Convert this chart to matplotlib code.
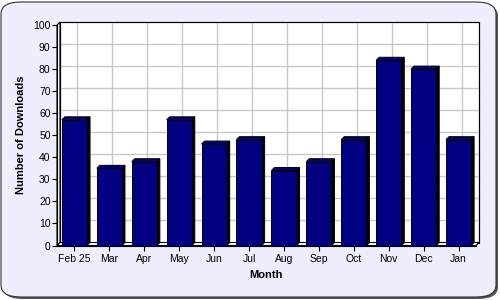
import matplotlib
matplotlib.use("Agg")
import matplotlib.pyplot as plt
from matplotlib.patches import Polygon, Rectangle, FancyBboxPatch

months = ['Feb 25', 'Mar', 'Apr', 'May', 'Jun', 'Jul', 'Aug', 'Sep', 'Oct', 'Nov', 'Dec', 'Jan']
downloads = [57, 35, 38, 57, 46, 48, 34, 38, 48, 84, 80, 48]
yticks = list(range(0, 101, 10))

plt.rcParams['font.family'] = ['Liberation Sans', 'DejaVu Sans']

W, H = 500, 300
fig = plt.figure(figsize=(5, 3), dpi=100)

# rounded background frame with shadow
fig.patches.append(FancyBboxPatch((3 / W, 1 / H), 495 / W, 295 / H,
                                  boxstyle="round,pad=0,rounding_size=0.04",
                                  transform=fig.transFigure, fc='#555555', ec='none', zorder=-2))
fig.patches.append(FancyBboxPatch((1 / W, 3 / H), 495 / W, 295 / H,
                                  boxstyle="round,pad=0,rounding_size=0.04",
                                  transform=fig.transFigure, fc='#eeeeff', ec='#333333', lw=0.8, zorder=-1))

# front plane of the plot
left, right, top, bottom = 57, 476, 25, 245.5
ax = fig.add_axes([left / W, 1 - bottom / H, (right - left) / W, (bottom - top) / H])
ax.set_xlim(-0.5, len(months) - 0.5)
ax.set_ylim(0, 100)
ax.patch.set_visible(False)
for s in ax.spines.values():
    s.set_visible(False)

# depth of 3D effect in data units (3 px)
dx = 3 / ((right - left) / len(months))
dy = 3 / ((bottom - top) / 100)
x0, x1 = -0.5, len(months) - 0.5

# back wall
ax.add_patch(Rectangle((x0 + dx, dy), x1 - x0, 100, fc='white', ec='black', lw=0.8, zorder=0, clip_on=False))
# left wall
ax.add_patch(Polygon([(x0, 0), (x0 + dx, dy), (x0 + dx, 100 + dy), (x0, 100)],
                     fc='white', ec='black', lw=0.8, zorder=0.5, clip_on=False))
for t in yticks[1:-1]:
    ax.plot([x0 + dx, x1 + dx], [t + dy, t + dy], color='#c8c8c8', lw=1, zorder=0.3, clip_on=False)
for i in range(len(months)):
    ax.plot([i + dx, i + dx], [dy, 100 + dy], color='#c8c8c8', lw=1, zorder=0.3, clip_on=False)
ax.add_patch(Rectangle((x0 + dx, dy), x1 - x0, 100, fc='none', ec='black', lw=0.8, zorder=0.6, clip_on=False))
# floor
ax.add_patch(Polygon([(x0, 0), (x1, 0), (x1 + dx, dy), (x0 + dx, dy)],
                     fc='white', ec='black', lw=0.8, zorder=0.7, clip_on=False))

# bars
bw = 0.72
for i, v in enumerate(downloads):
    xl, xr = i - bw / 2, i + bw / 2
    ax.add_patch(Polygon([(xr, 0), (xr + dx, dy), (xr + dx, v + dy), (xr, v)],
                         fc='black', ec='black', lw=0.7, zorder=2, clip_on=False))
    ax.add_patch(Polygon([(xl, v), (xl + dx, v + dy), (xr + dx, v + dy), (xr, v)],
                         fc='#000080', ec='black', lw=0.7, zorder=2, clip_on=False))
ax.bar(range(len(months)), downloads, width=bw, color='#000080', edgecolor='black', lw=0.7, zorder=3)

# axes lines
ax.plot([x0, x0], [0, 100], color='black', lw=0.8, zorder=4, clip_on=False)
ax.plot([x0, x1], [0, 0], color='black', lw=0.8, zorder=4, clip_on=False)

ax.set_yticks(yticks)
ax.set_xticks(range(len(months)))
ax.set_xticklabels(months)
ax.tick_params(axis='y', direction='out', length=3.6, width=0.8, labelsize=7.5, pad=1, color='black')
ax.tick_params(axis='x', direction='out', length=3.6, width=0.8, labelsize=7.5, pad=2.5, color='black')
ax.set_xlabel('Month', fontsize=8, fontweight='bold', labelpad=4)
ax.set_ylabel('Number of Downloads', fontsize=8, fontweight='bold', labelpad=5)

fig.savefig('out.png', dpi=100)
